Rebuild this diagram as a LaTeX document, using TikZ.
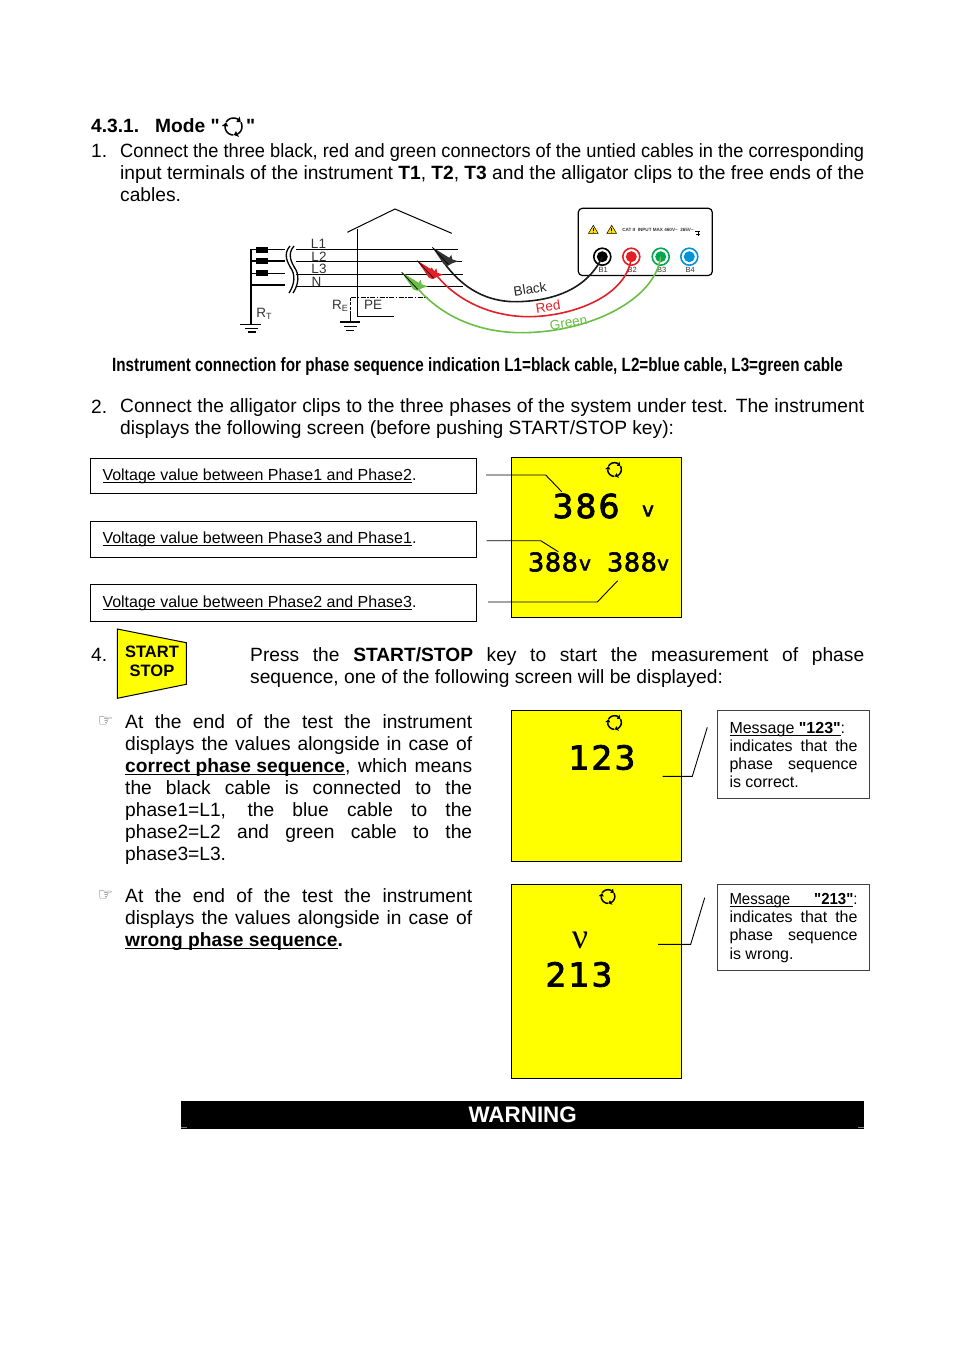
\documentclass[tikz,border=0pt]{standalone}
\usepackage{fontspec}
\setmainfont[Ligatures=TeXOff]{Liberation Sans}
\newfontfamily\lcdfont[FakeBold=2.4, LetterSpace=2]{DejaVu Sans}
\newfontfamily\lcdwide[FakeBold=2.4, LetterSpace=6]{DejaVu Sans}
\newfontfamily\handfont{DejaVu Sans}
\newfontfamily\nufont{Liberation Serif}
\usetikzlibrary{positioning, calc}
\definecolor{lcdyellow}{RGB}{255,255,0}
\definecolor{leadred}{RGB}{227,30,36}
\definecolor{leadgreen}{RGB}{106,189,69}
\definecolor{termgreen}{RGB}{0,166,81}
\definecolor{termblue}{RGB}{0,147,221}
\newsavebox{\jlbox}
\newcommand{\jl}[1]{\sbox{\jlbox}{#1}\ifdim\wd\jlbox>\hsize\resizebox{\hsize}{\ht\jlbox}{\usebox{\jlbox}}\else\makebox[\hsize][s]{\spaceskip=0pt\xspaceskip=0pt #1}\fi\\}
\newsavebox{\ulbox}
\newcommand{\ulined}[1]{\leavevmode\sbox{\ulbox}{#1}\rlap{\usebox{\ulbox}}\rlap{\rule[-2.8pt]{\wd\ulbox}{1.2pt}}\hskip\wd\ulbox}
\tikzset{%
	body/.style={anchor=north west, inner sep=0pt, align=flush left, font=\fontsize{19.2}{22}\selectfont},
	lcdbox/.style={draw, fill=lcdyellow, line width=1pt, anchor=north west, inner sep=0pt},
	voltbox/.style={draw, line width=1pt, anchor=north west, minimum width=386pt, inner xsep=12pt,%
		text width=362pt, align=flush left, font=\fontsize{16}{18}\selectfont},
	msgbox/.style={draw=black!75, line width=1pt, anchor=north west, minimum width=152pt, inner xsep=12pt,%
		inner ysep=5pt, text width=128pt, align=flush left, font=\fontsize{16}{18.2}\selectfont},
	bigdig/.style={font=\fontsize{33}{33}\lcdwide, inner sep=0pt},
	smalldig/.style={font=\fontsize{25.6}{26}\lcdfont, inner sep=0pt},
	unit/.style={font=\fontsize{20}{21}\lcdfont, inner sep=0pt},
	connector/.style={line width=0.9pt},
	gridline/.style={line width=0.7pt},
	wire/.style={line width=1.7pt},
	lead/.style={line width=1.6pt},
	earth/.style={line width=1.5pt},
	coil/.style={draw=none, fill=black, minimum width=12.5pt, minimum height=6pt, inner sep=0pt},
	termo/.style={circle, draw, fill=white, line width=1.6pt, minimum size=17pt, inner sep=0pt},
	core/.style={circle, minimum size=11pt, inner sep=0pt},
	tag/.style={font=\fontsize{13.5}{14}\selectfont, text=black!80, inner sep=0pt},
	hand/.style={font=\fontsize{17}{17}\handfont, text=black!70, inner sep=0pt},
	rotsign/.pic={
		\foreach \a in {-103,17,137} {
			\draw[line width=1.5pt, domain=\a-46:\a+45, samples=10, smooth, variable=\t]
				plot ({6.8*cos(\t)},{6.8*sin(\t)});
			\fill ({\a+45}:4.2) -- ({\a+45}:9.4) -- ({\a+72}:6.8) -- cycle;
		}
	},
	alligator/.pic={
		\fill[pic actions] (0,0) -- (17,10.5) -- (19,7.5) -- (20,12) -- (26,14) -- (20,16) -- (15.5,18.5) -- (11.5,17) -- cycle;
		\draw[line width=0.7pt] (0,0) -- (16,17);
	},
	warntri/.pic={
		\fill[yellow!85!orange] (0,-4.5) -- (4.8,3.5) -- (-4.8,3.5) -- cycle;
		\draw[line width=0.5pt] (0,-4.5) -- (4.8,3.5) -- (-4.8,3.5) -- cycle;
		\draw[line width=0.9pt] (0,-2) -- (0,1.2);
		\fill (0,2.4) circle (0.5);
	}
}
\begin{document}
\begin{tikzpicture}[x=1pt, y=-1pt]
	\useasboundingbox (0,0) rectangle (954,1351);

	% heading and first item
	\node[anchor=base west, inner sep=0pt, font=\fontsize{19.2}{22}\selectfont\bfseries] (title) at (91,133) {4.3.1.};
	\node[anchor=base west, inner sep=0pt, font=\fontsize{19.2}{22}\selectfont\bfseries] (mode) at (155,133) {Mode "};
	\pic[scale=1.25] at (233.5,126.5) {rotsign};
	\node[anchor=base west, inner sep=0pt, font=\fontsize{19.2}{22}\selectfont\bfseries] (qmark) at (246,133) {"};
	\node[body] (n1) at (91,144.5) {1.};
	\node[body, text width=744pt] (p1) at (120,143) {\jl{Connect the three black, red and green connectors of the untied cables in the corresponding}%
		\jl{input terminals of the instrument \textbf{T1}, \textbf{T2}, \textbf{T3} and the alligator clips to the free ends of the}%
		cables.};

	% wiring
	\draw[wire] (251.3,249.3) coordinate (rail-t) -- (251.3,324) coordinate (rail-b);
	\foreach \y/\nm in {249.5/a, 261/b, 273.3/c, 285/d}
		\draw[line width=1.1pt] (251.3,\y) -- (285,\y);
	\foreach \y/\nm in {249.5/a, 261/b, 273.3/c}
		\node[coil] (coil-\nm) at (262,\y) {};
	\draw[line width=1.3pt] (290,246) .. controls (283,254) and (287,262) .. (292,270) .. controls (296,278) and (293,287) .. (289,293);
	\draw[line width=1.3pt] (294,246) .. controls (287,254) and (291,262) .. (296,270) .. controls (300,278) and (297,287) .. (293,293);
	\draw[line width=1.6pt] (296,249.5) -- (458,249.5);
	\draw[gridline] (296,261.7) -- (462,261.7);
	\draw[gridline] (296,274) -- (463,274);
	\draw[gridline] (296,286) -- (463,286);
	\draw[line width=1pt] (347.3,232.3) -- (395,209) -- (451.7,233.3);
	\draw[line width=1pt] (357,229) -- (357,316) -- (394,316);
	\draw[line width=1pt, dash pattern=on 5pt off 1.5pt on 1.5pt off 1.5pt] (351,297.7) -- (428,297.7);
	\draw[line width=1.2pt, dash pattern=on 3pt off 1.5pt] (350.3,297.7) -- (350.3,313);
	\draw[line width=1.2pt] (350.3,313) -- (350.3,322);
	\foreach \a/\b/\y in {240/261/324.5, 245/258/328.5, 247.5/256/332, 340/360/322, 343.5/356.5/326.5, 346/354/330.5}
		\draw[earth] (\a,\y) -- (\b,\y);
	\node[tag] (l1) at (318.5,243.5) {L1};
	\node[tag] (l2) at (319,256.5) {L2};
	\node[tag] (l3) at (319,268.5) {L3};
	\node[tag] (ln) at (316.5,282) {N};
	\node[tag] (rt) at (264,314) {R\raisebox{-2pt}{\fontsize{9}{9}\selectfont T}};
	\node[tag] (re) at (340,306) {R\raisebox{-2pt}{\fontsize{9}{9}\selectfont E}};
	\node[tag] (pe) at (373,305) {PE};

	% instrument
	\draw[line width=1.2pt, rounded corners=4pt] (578.3,208.3) rectangle (712.3,275.5);
	\pic at (593.3,229.8) {warntri};
	\pic at (611.7,229.8) {warntri};
	\node[inner sep=0pt, font=\fontsize{4.6}{5}\selectfont\bfseries, text=black!80] (inst) at (658,230) {CAT II \ INPUT MAX 460V\textasciitilde \ \ 265V\textasciitilde};
	\draw[line width=0.7pt] (695,231) -- (700,231) (698,232) -- (698,236) (696,234) -- (700,234);
	\foreach \x/\nm/\col in {602.3/b1/black, 631.3/b2/leadred, 660.7/b3/termgreen, 689.3/b4/termblue} {
		\node[termo, draw=\col] (\nm) at (\x,256.7) {};
		\node[core, fill=\col] (\nm-c) at (\x,256.7) {};
		\node[inner sep=0pt, font=\fontsize{7.5}{8}\selectfont, text=black!80] (\nm-t) at (\x+1,270) {\MakeUppercase{\nm}};
	}

	% clips and cables
	\coordinate (clip-k) at (445,264);
	\coordinate (clip-r) at (431,268);
	\coordinate (clip-g) at (414,284);
	\draw[lead, black!90] (clip-k) .. controls (468,295) and (495,302) .. (517,301.7) .. controls (555,301) and (588,288) .. (b1.center);
	\draw[lead, leadred] (clip-r) .. controls (455,303) and (495,317) .. (530,316.7) .. controls (575,316) and (628,295) .. (b2.center);
	\draw[lead, leadgreen] (clip-g) .. controls (440,317) and (480,333) .. (523,332.7) .. controls (590,332) and (655,300) .. (b3.center);
	\pic[fill=black!80] at (432.3,247.3) {alligator};
	\pic[fill=leadred] at (417.3,260.7) {alligator};
	\pic[fill=leadgreen] at (401.7,272.3) {alligator};
	\node[rotate=9, inner sep=0pt, font=\fontsize{13.5}{14}\selectfont, text=black!85] (lb) at (530,289) {Black};
	\node[rotate=9, inner sep=0pt, font=\fontsize{13.5}{14}\selectfont, text=leadred] (lr) at (548,306.5) {Red};
	\node[rotate=9, inner sep=0pt, font=\fontsize{13.5}{14}\selectfont, text=leadgreen] (lg) at (568.5,322.5) {Green};

	\node[inner sep=0pt, font=\fontsize{19.2}{22}\selectfont\bfseries] (caption) at (477.5,366.5)
		{\scalebox{0.794}[1]{Instrument connection for phase sequence indication L1=black cable, L2=blue cable, L3=green cable}};

	% second item
	\node[body] (n2) at (91,399.5) {2.};
	\node[body, text width=744pt] (p2) at (120,398) {\jl{Connect the alligator clips to the three phases of the system under test. The instrument}%
		displays the following screen (before pushing START/STOP key):};

	\node[voltbox, minimum height=35pt] (v12) at (90,458) {\ulined{Voltage value between Phase1 and Phase2}.};
	\node[voltbox, minimum height=36pt, below=27pt of v12] (v31) {\ulined{Voltage value between Phase3 and Phase1}.};
	\node[voltbox, minimum height=37pt, below=26pt of v31] (v23) {\ulined{Voltage value between Phase2 and Phase3}.};

	\node[lcdbox, minimum width=170pt, minimum height=159.5pt] (lcd1) at (511.2,457.3) {};
	\pic at (614.5,469.5) {rotsign};
	\node[bigdig] (d386) at (586,506) {386};
	\node[unit] (u386) at (648,511) {v};
	\node[smalldig] (d388a) at (553,562) {388};
	\node[unit] (u388a) at (585,565) {v};
	\node[smalldig] (d388b) at (632,562) {388};
	\node[unit] (u388b) at (663,565) {v};
	\coordinate (a12) at (486,475);
	\coordinate (a31) at (486.7,540.7);
	\coordinate (a23) at (488,602);
	\coordinate (e12) at (561.7,491.7);
	\coordinate (e31) at (558.3,551.7);
	\coordinate (e23) at (617.7,580.7);
	\draw[connector] (a12) -- (545.7,475) -- (e12);
	\draw[connector] (a31) -- (540.7,540.7) -- (e31);
	\draw[connector] (a23) -- (597.3,602) -- (e23);

	% start/stop key and fourth item
	\node[body] (n4) at (91,648.5) {4.};
	\draw[fill=lcdyellow, line width=1pt] (117.3,629) -- (186.3,642.7) -- (186.3,684.3) -- (117.3,698.3) -- cycle;
	\node[inner sep=0pt, align=center, font=\fontsize{16.5}{19}\selectfont\bfseries] (key) at (152,661.5) {START\\STOP};
	\node[body, text width=614pt] (p4) at (250,647) {\jl{Press the \textbf{START/STOP} key to start the measurement of phase}%
		sequence, one of the following screen will be displayed:};

	% first bullet
	\node[hand] (h1) at (105.5,721.5) {☞};
	\node[body, text width=347pt] (p5) at (125,714) {\jl{At the end of the test the instrument}%
		\jl{displays the values alongside in case of}%
		\jl{\ulined{\textbf{correct phase sequence}}, which means}%
		\jl{the black cable is connected to the}%
		\jl{phase1=L1, the blue cable to the}%
		\jl{phase2=L2 and green cable to the}%
		phase3=L3.};
	\node[lcdbox, minimum width=170pt, minimum height=151pt] (lcd2) at (511.2,710.3) {};
	\pic at (614.5,722.5) {rotsign};
	\node[bigdig] (d123) at (602,757.5) {123};
	\node[msgbox, minimum height=88pt] (m123) at (717,710.3) {\jl{\ulined{Message \textbf{"123"}}:}%
		\jl{indicates that the}%
		\jl{phase sequence}%
		is correct.};
	\coordinate (a123) at (662.7,776.3);
	\coordinate (e123) at (707.3,727.3);
	\draw[connector] (a123) -- (692.3,776.3) -- (e123);

	% second bullet
	\node[hand] (h2) at (105.5,895.5) {☞};
	\node[body, text width=347pt] (p6) at (125,888) {\jl{At the end of the test the instrument}%
		\jl{displays the values alongside in case of}%
		\ulined{\textbf{wrong phase sequence}}\textbf{.}};
	\node[lcdbox, minimum width=170pt, minimum height=194pt] (lcd3) at (511.2,884.3) {};
	\pic at (608,896.5) {rotsign};
	\node[inner sep=0pt, font=\fontsize{36}{36}\nufont] (u213) at (580,940) {ν};
	\node[bigdig] (d213) at (579,974.5) {213};
	\node[msgbox, minimum height=86pt] (m213) at (717,884.3) {\jl{\ulined{Message\hspace{1.6em}\textbf{"213"}}:}%
		\jl{indicates that the}%
		\jl{phase sequence}%
		is wrong.};
	\coordinate (a213) at (658,944.3);
	\coordinate (e213) at (704.7,897.7);
	\draw[connector] (a213) -- (690.7,944.3) -- (e213);

	% warning bar
	\node[fill=black, text=white, anchor=north west, minimum width=683pt, minimum height=28pt, inner sep=0pt,%
		font=\fontsize{22.4}{24}\selectfont\bfseries] (warn) at (181,1101) {WARNING};
	\draw[black!50, line width=0.8pt] (181,1127.8) -- (187,1127.8) (858,1127.8) -- (864,1127.8);
\end{tikzpicture}
\end{document}
